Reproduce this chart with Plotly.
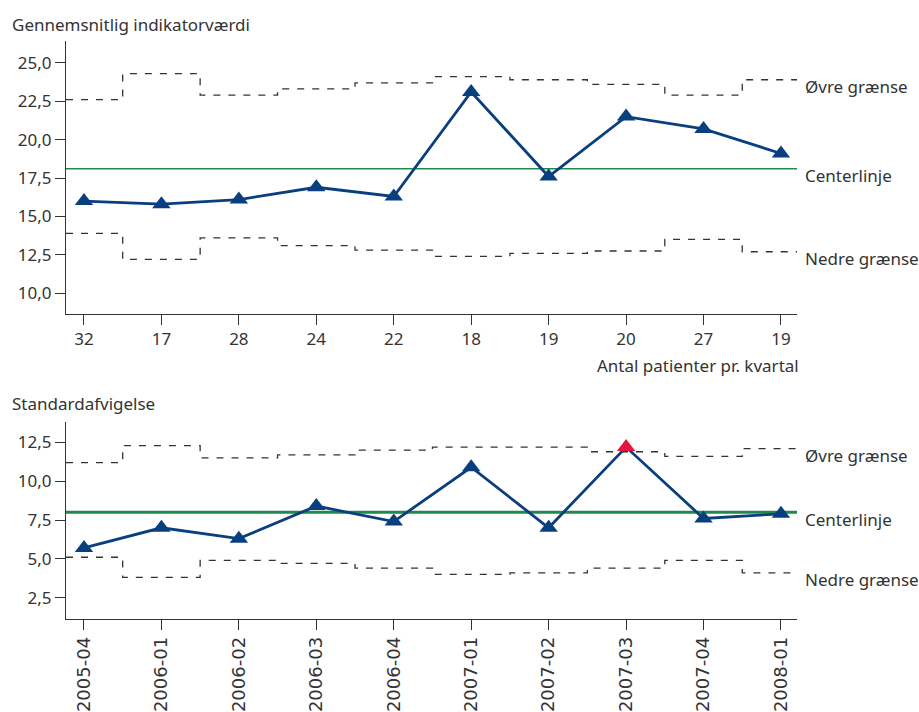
import plotly.graph_objects as go

# Quarterly control-chart data
patients = ["32", "17", "28", "24", "22", "18", "19", "20", "27", "19"]
quarters = ["2005-04", "2006-01", "2006-02", "2006-03", "2006-04",
            "2007-01", "2007-02", "2007-03", "2007-04", "2008-01"]

mean_values = [16.0, 15.8, 16.1, 16.9, 16.3, 23.1, 17.6, 21.5, 20.7, 19.1]
mean_upper = [22.6, 24.3, 22.9, 23.3, 23.7, 24.1, 23.9, 23.6, 22.9, 23.9]
mean_lower = [13.9, 12.2, 13.6, 13.1, 12.8, 12.4, 12.6, 12.75, 13.5, 12.7]
mean_center = 18.1

sd_values = [5.7, 7.0, 6.3, 8.4, 7.4, 10.9, 7.0, 12.2, 7.6, 7.9]
sd_upper = [11.2, 12.3, 11.5, 11.7, 12.0, 12.2, 12.2, 11.9, 11.6, 12.1]
sd_lower = [5.1, 3.8, 4.9, 4.7, 4.4, 4.0, 4.1, 4.4, 4.9, 4.1]
sd_center = 8.0

mean_ticks = [10.0, 12.5, 15.0, 17.5, 20.0, 22.5, 25.0]
sd_ticks = [2.5, 5.0, 7.5, 10.0, 12.5]

W, H = 919, 712
FONT = "Noto Sans"
TEXT = "#333333"
NAVY = "#0a3f7f"
RED = "#e3173e"
GREEN = "#1f8a4c"
DASH = "#333333"

X_RANGE = [-0.232, 9.207]
idx = list(range(len(patients)))


def px(x):
    return x / W


def py(y):
    return 1 - y / H


fig = go.Figure()


def add_chart(xa, ya, values, upper, lower, center, center_width):
    # step-shaped control limits stretched to the axis range
    xs = [X_RANGE[0]] + idx + [X_RANGE[1]]
    for lim in (upper, lower):
        fig.add_trace(go.Scatter(
            x=xs, y=[lim[0]] + lim + [lim[-1]], mode="lines",
            line=dict(color=DASH, width=1.3, dash="7px,8px", shape="hvh"),
            xaxis=xa, yaxis=ya, hoverinfo="skip", showlegend=False))
    fig.add_trace(go.Scatter(
        x=X_RANGE, y=[center, center], mode="lines",
        line=dict(color=GREEN, width=center_width),
        xaxis=xa, yaxis=ya, hoverinfo="skip", showlegend=False))
    colors = [RED if (v > u or v < l) else NAVY
              for v, u, l in zip(values, upper, lower)]
    fig.add_trace(go.Scatter(
        x=idx, y=values, mode="lines+markers",
        line=dict(color=NAVY, width=2.8),
        marker=dict(symbol="triangle-up", size=16, color=colors),
        xaxis=xa, yaxis=ya, showlegend=False))


add_chart("x", "y", mean_values, mean_upper, mean_lower, mean_center, 1.5)
add_chart("x2", "y2", sd_values, sd_upper, sd_lower, sd_center, 3)

axis_common = dict(showline=True, linecolor=TEXT, linewidth=1.3,
                   ticks="outside", ticklen=10, tickcolor=TEXT, tickwidth=1.3,
                   showgrid=False, zeroline=False,
                   tickfont=dict(family=FONT, size=17, color=TEXT))

x_dom = [px(66), px(797)]

fig.update_layout(
    width=W, height=H,
    margin=dict(l=0, r=0, t=0, b=0),
    paper_bgcolor="white", plot_bgcolor="white",
    separators=", ",
    font=dict(family=FONT, size=17, color=TEXT),
    xaxis=dict(domain=x_dom, range=X_RANGE, anchor="y",
               tickvals=idx, ticktext=patients, **axis_common),
    yaxis=dict(domain=[py(314.7), py(41)], range=[8.66, 26.43], anchor="x",
               tickvals=mean_ticks, tickformat=".1f", **axis_common),
    xaxis2=dict(domain=x_dom, range=X_RANGE, anchor="y2",
                tickvals=idx, ticktext=quarters, tickangle=-90, **axis_common),
    yaxis2=dict(domain=[py(620.3), py(423.3)], range=[1.15, 13.81], anchor="x2",
                tickvals=sd_ticks, tickformat=".1f", **axis_common),
)
fig.update_xaxes(tickfont=dict(family="DejaVu Sans", size=18, color=TEXT),
                 selector=dict(anchor="y2"))

annotations = [
    dict(text="Gennemsnitlig indikatorværdi", x=px(10), y=py(25),
         xref="paper", yref="paper", xanchor="left", yanchor="middle"),
    dict(text="Antal patienter pr. kvartal", x=px(801), y=py(367),
         xref="paper", yref="paper", xanchor="right", yanchor="middle"),
    dict(text="Standardafvigelse", x=px(10), y=py(405),
         xref="paper", yref="paper", xanchor="left", yanchor="middle"),
]

# Labels for the limit and center lines, placed at the right end of each chart
for ya, up, cen, low in (("y", mean_upper[-1], mean_center, mean_lower[-1]),
                         ("y2", sd_upper[-1], sd_center, sd_lower[-1])):
    for label, val in (("Øvre grænse", up), ("Centerlinje", cen),
                       ("Nedre grænse", low)):
        annotations.append(dict(text=label, x=X_RANGE[1], y=val,
                                xref="x" if ya == "y" else "x2", yref=ya,
                                xanchor="left", yanchor="middle",
                                xshift=6, yshift=-7))

for a in annotations:
    a.update(showarrow=False, font=dict(family=FONT, size=17, color=TEXT))
fig.update_layout(annotations=annotations)

fig.write_html("out.html")
